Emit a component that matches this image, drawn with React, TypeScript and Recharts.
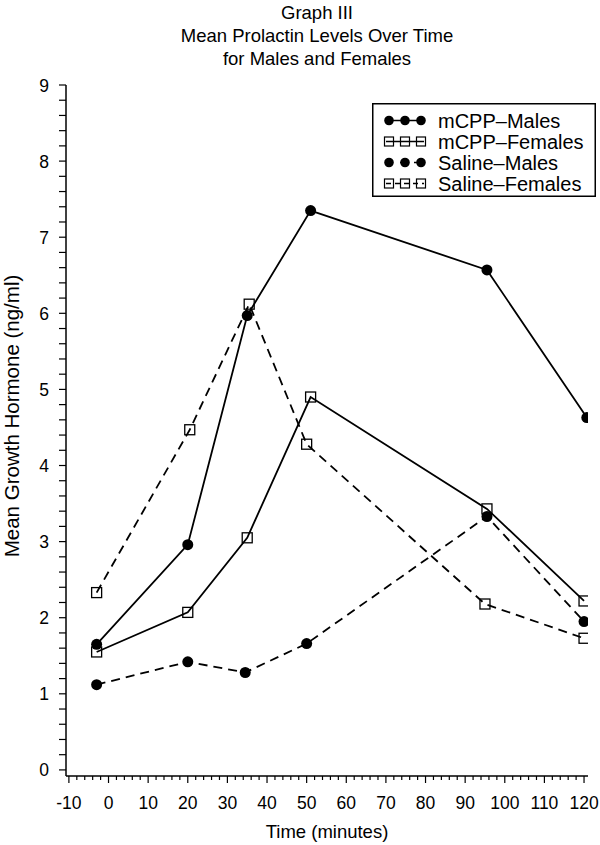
import React from "react";
import { LineChart, Line, XAxis, YAxis, Legend } from "recharts";

// time points (minutes), per group
const mcppMalesTime = [-3, 20, 35, 51, 95.5, 120.7];
const mcppFemalesTime = [-3, 20, 35, 51, 95.5, 120];
const salineMalesTime = [-3, 20, 34.5, 50, 95.5, 120];
const salineFemalesTime = [-3, 20.5, 35.5, 50, 95, 120];

// mean growth hormone (ng/ml)
const mcppMalesGH = [1.65, 2.96, 5.97, 7.35, 6.57, 4.63];
const mcppFemalesGH = [1.55, 2.07, 3.05, 4.9, 3.43, 2.22];
const salineMalesGH = [1.12, 1.42, 1.28, 1.66, 3.33, 1.95];
const salineFemalesGH = [2.33, 4.47, 6.12, 4.28, 2.18, 1.73];

const xMajor = [-10, 0, 10, 20, 30, 40, 50, 60, 70, 80, 90, 100, 110, 120];
const yMajor = [0, 1, 2, 3, 4, 5, 6, 7, 8, 9];

const seriesNames = ["mCPP\u2013Males", "mCPP\u2013Females", "Saline\u2013Males", "Saline\u2013Females"];

const FONT = "'Liberation Sans', Arial, Helvetica, sans-serif";

const zip = (t: number[], v: number[]) => t.map((x, i) => ({ t: x, v: v[i] }));

const mcppMales = zip(mcppMalesTime, mcppMalesGH);
const mcppFemales = zip(mcppFemalesTime, mcppFemalesGH);
const salineMales = zip(salineMalesTime, salineMalesGH);
const salineFemales = zip(salineFemalesTime, salineFemalesGH);

// minor ticks every 1/5 of a major step
const xTicks: number[] = [];
xMajor.forEach((m, i) => {
  if (i === xMajor.length - 1) { xTicks.push(m); return; }
  for (let k = 0; k < 5; k++) xTicks.push(m + k * 2);
});
const yTicks: number[] = [];
yMajor.forEach((m, i) => {
  if (i === yMajor.length - 1) { yTicks.push(m); return; }
  for (let k = 0; k < 5; k++) yTicks.push(Math.round((m + k * 0.2) * 10) / 10);
});

function XTick(props: any) {
  const { x, y, payload } = props;
  const major = xMajor.includes(payload.value);
  return (
    <g>
      <line x1={x} x2={x} y1={y} y2={y + (major ? 7 : 4)} stroke="#000" strokeWidth={1.2} />
      {major && (
        <text x={x} y={y + 33} textAnchor="middle" fontSize={17.5} fontFamily={FONT} fill="#000">
          {payload.value}
        </text>
      )}
    </g>
  );
}

function YTick(props: any) {
  const { x, y, payload } = props;
  const major = yMajor.includes(payload.value);
  return (
    <g>
      <line x1={x} x2={x - 7} y1={y} y2={y} stroke="#000" strokeWidth={1.2} />
      {major && (
        <text x={x - 22} y={y + 6.5} textAnchor="middle" fontSize={17.5} fontFamily={FONT} fill="#000">
          {payload.value}
        </text>
      )}
    </g>
  );
}

function YLabel() {
  return (
    <text x={11} y={416} transform="rotate(-90 11 416)" textAnchor="middle" dominantBaseline="central"
      fontSize={20.5} fontFamily={FONT} fill="#000">
      Mean Growth Hormone (ng/ml)
    </text>
  );
}

function CircleDot(props: any) {
  const { cx, cy } = props;
  if (cx == null || cy == null) return null;
  return <circle cx={cx} cy={cy} r={5.5} fill="#000" />;
}

function SquareDot(props: any) {
  const { cx, cy } = props;
  if (cx == null || cy == null) return null;
  return <rect x={cx - 5} y={cy - 5} width={10} height={10} fill="none" stroke="#000" strokeWidth={1.3} />;
}

function LegendBox() {
  const rows = [
    { name: seriesNames[0], dot: "circle", dash: undefined },
    { name: seriesNames[1], dot: "square", dash: undefined },
    { name: seriesNames[2], dot: "circle", dash: "5 9" },
    { name: seriesNames[3], dot: "square", dash: "5 4" },
  ];
  return (
    <svg width={224} height={94} style={{ display: "block" }}>
      <rect x={0.75} y={0.75} width={222.5} height={92.5} fill="#fff" stroke="#000" strokeWidth={1.5} />
      {rows.map((r, i) => {
        const cy = 17.5 + i * 21;
        const xs = [17, 33, 49];
        return (
          <g key={r.name}>
            <line x1={14} x2={52} y1={cy} y2={cy} stroke="#000" strokeWidth={1.5} strokeDasharray={r.dash} />
            {xs.map((cx) =>
              r.dot === "circle" ? (
                <circle key={cx} cx={cx} cy={cy} r={4.8} fill="#000" />
              ) : (
                <rect key={cx} x={cx - 4.5} y={cy - 4.5} width={9} height={9} fill="none" stroke="#000" strokeWidth={1.2} />
              )
            )}
            <text x={66} y={cy + 7} fontSize={20} fontFamily={FONT} fill="#000">{r.name}</text>
          </g>
        );
      })}
    </svg>
  );
}

export default function App() {
  return (
    <div style={{ position: "absolute", left: 0, top: 0, width: 600, height: 845, background: "#fff", fontFamily: FONT }}>
      <div style={{ position: "absolute", left: 0, top: 1, width: 634, textAlign: "center", fontSize: 18.5, lineHeight: "23px", color: "#000" }}>
        Graph III<br />Mean Prolactin Levels Over Time<br />for Males and Females
      </div>
      <LineChart width={600} height={845} margin={{ top: 85, right: 12, bottom: 0, left: 0 }}>
        <XAxis
          dataKey="t"
          type="number"
          domain={[-10.73, 121]}
          ticks={xTicks}
          interval={0}
          allowDataOverflow
          height={69}
          tickSize={0}
          tickMargin={0}
          tickLine={false}
          tick={<XTick />}
          axisLine={{ stroke: "#000", strokeWidth: 1.5 }}
          label={{ value: "Time (minutes)", position: "insideBottom", offset: 7, fontSize: 18.5, fontFamily: FONT, fill: "#000" }}
        />
        <YAxis
          type="number"
          domain={[-0.08, 9]}
          ticks={yTicks}
          interval={0}
          allowDataOverflow
          width={66}
          tickSize={0}
          tickMargin={0}
          tickLine={false}
          tick={<YTick />}
          axisLine={{ stroke: "#000", strokeWidth: 1.5 }}
          label={<YLabel />}
        />
        <Legend
          verticalAlign="middle"
          align="center"
          content={() => <LegendBox />}
          wrapperStyle={{ position: "absolute", left: 372, top: 103, width: 224, height: 94 }}
        />
        <Line data={mcppMales} dataKey="v" name={seriesNames[0]} stroke="#000" strokeWidth={1.8} dot={<CircleDot />} activeDot={false} isAnimationActive={false} />
        <Line data={mcppFemales} dataKey="v" name={seriesNames[1]} stroke="#000" strokeWidth={1.8} dot={<SquareDot />} activeDot={false} isAnimationActive={false} />
        <Line data={salineMales} dataKey="v" name={seriesNames[2]} stroke="#000" strokeWidth={1.8} strokeDasharray="9 6" dot={<CircleDot />} activeDot={false} isAnimationActive={false} />
        <Line data={salineFemales} dataKey="v" name={seriesNames[3]} stroke="#000" strokeWidth={1.8} strokeDasharray="9 6" dot={<SquareDot />} activeDot={false} isAnimationActive={false} />
      </LineChart>
    </div>
  );
}
